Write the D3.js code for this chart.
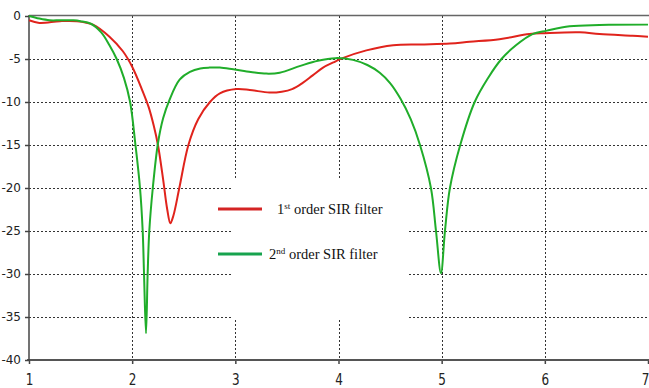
<!DOCTYPE html>
<html>
<head>
<meta charset="utf-8">
<script src="https://cdn.jsdelivr.net/npm/d3@7"></script>
<style>
  body { margin: 0; background: #fff; }
  svg { display: block; }
</style>
</head>
<body>
<div id="chart"></div>
<script>
// data
var xTicks = [1, 2, 3, 4, 5, 6, 7];
var yTicks = [0, -5, -10, -15, -20, -25, -30, -35, -40];

var firstFreq = [1.0, 1.1, 1.3, 1.46, 1.62, 1.78, 1.91, 2.0, 2.1, 2.16, 2.21, 2.25, 2.3, 2.34, 2.37,
  2.4, 2.457, 2.545, 2.64, 2.754, 2.85, 3.01, 3.14, 3.33, 3.45, 3.55, 3.65, 3.75, 3.85, 3.95, 4.04,
  4.27, 4.53, 4.79, 5.08, 5.27, 5.56, 5.85, 6.0, 6.34, 6.53, 6.85, 7.0];
var firstLoss = [-0.5, -0.8, -0.6, -0.6, -1.0, -2.4, -4.1, -5.9, -8.7, -10.6, -12.8, -15, -19, -22.5, -24.1,
  -23.2, -20, -15, -12, -10, -9.0, -8.5, -8.6, -8.9, -8.8, -8.5, -7.8, -6.9, -6.0, -5.4, -4.9,
  -4.0, -3.4, -3.3, -3.2, -3.0, -2.7, -2.1, -2.0, -1.9, -2.1, -2.3, -2.4];

var secondFreq = [1.0, 1.1, 1.2, 1.3, 1.43, 1.5, 1.6, 1.7, 1.78, 1.85, 1.92, 1.98, 2.03, 2.076, 2.102,
  2.115, 2.134, 2.15, 2.166, 2.2, 2.25, 2.3, 2.36, 2.46, 2.56, 2.66, 2.75, 2.85, 2.98, 3.15, 3.3,
  3.43, 3.63, 3.8, 3.97, 4.14, 4.28, 4.4, 4.5, 4.6, 4.7, 4.79, 4.896, 4.945, 4.993, 5.032, 5.08, 5.18,
  5.32, 5.45, 5.58, 5.72, 5.88, 6.02, 6.24, 6.53, 7.0];
var secondLoss = [0, -0.3, -0.5, -0.5, -0.5, -0.6, -0.9, -1.9, -3.4, -5.0, -7.2, -10, -14.8, -20, -25,
  -30, -36.9, -30, -25, -20, -14.8, -11.9, -9.8, -7.4, -6.5, -6.1, -6.0, -6.0, -6.2, -6.5, -6.7,
  -6.6, -5.8, -5.2, -4.9, -5.1, -5.7, -6.6, -7.8, -9.6, -12.0, -15, -20, -25, -29.9, -25, -20, -15,
  -10, -7.2, -5, -3.4, -2.1, -1.7, -1.2, -1.05, -1.0];

var legendLabels = [["1", "st", " order SIR filter"], ["2", "nd", " order SIR filter"]];

let svgWidth = 649;
let svgHeight = 388;

let svg = d3.select("#chart")
  .append("svg")
  .attr("width", svgWidth)
  .attr("height", svgHeight);

var xScale = d3.scaleLinear().domain([1, 7]).range([29, 648]);
var yScale = d3.scaleLinear().domain([-40, 0]).range([360, 16]);

// dotted grid
var grid = svg.append("g")
  .attr("stroke", "#333")
  .attr("stroke-width", 1)
  .attr("stroke-dasharray", "2,2");

grid.selectAll(".vgrid")
  .data(xTicks.filter(d => d > 1 && d < 7))
  .enter()
  .append("line")
  .attr("x1", d => Math.round(xScale(d)) + 0.5)
  .attr("x2", d => Math.round(xScale(d)) + 0.5)
  .attr("y1", yScale(0))
  .attr("y2", yScale(-40));

grid.selectAll(".hgrid")
  .data(yTicks.filter(d => d < 0 && d > -40))
  .enter()
  .append("line")
  .attr("x1", xScale(1))
  .attr("x2", svgWidth)
  .attr("y1", d => Math.round(yScale(d)) + 0.5)
  .attr("y2", d => Math.round(yScale(d)) + 0.5);

// white patch behind the legend hides the grid there
svg.append("rect")
  .attr("x", 232)
  .attr("y", 180)
  .attr("width", 175)
  .attr("height", 139)
  .attr("fill", "#fff");

// frame
svg.append("line")
  .attr("x1", xScale(1)).attr("x2", svgWidth)
  .attr("y1", 15.5).attr("y2", 15.5)
  .attr("stroke", "#666").attr("stroke-width", 1.5);

// axes
var bottomAxis = d3.axisBottom(xScale).tickValues(xTicks).tickSize(4).tickFormat(d3.format("d"));
var leftAxis = d3.axisLeft(yScale).tickValues(yTicks).tickSize(4).tickFormat(d => d);

var xAxis = svg.append("g")
  .attr("transform", "translate(0, 360)")
  .call(bottomAxis);
xAxis.select(".domain").remove();
xAxis.append("line")
  .attr("x1", xScale(1) - 2).attr("x2", svgWidth)
  .attr("stroke", "#555").attr("stroke-width", 2);
xAxis.selectAll(".tick line").attr("stroke", "#444").attr("stroke-width", 1.5);
xAxis.selectAll(".tick text")
  .attr("y", 0)
  .attr("dy", 0)
  .attr("transform", "translate(0, 25) scale(1, 1.3)")
  .attr("text-anchor", d => d === 7 ? "end" : "middle")
  .attr("x", d => d === 7 ? 1 : 0)
  .attr("fill", "#222")
  .style("font-family", "'DejaVu Sans', sans-serif")
  .style("font-size", "12px");

var yAxis = svg.append("g")
  .attr("transform", "translate(" + xScale(1) + ", 0)")
  .call(leftAxis);
yAxis.select(".domain").remove();
yAxis.append("line")
  .attr("y1", 15).attr("y2", 361)
  .attr("stroke", "#444").attr("stroke-width", 1.5);
yAxis.selectAll(".tick line").attr("stroke", "#444").attr("stroke-width", 1.5);
yAxis.selectAll(".tick text")
  .attr("x", -8)
  .attr("fill", "#222")
  .style("font-family", "'DejaVu Sans', sans-serif")
  .style("font-size", "12px");

// curves
var line = d3.line()
  .x(d => xScale(d[0]))
  .y(d => yScale(d[1]))
  .curve(d3.curveCatmullRom.alpha(0.5));

var firstData = firstFreq.map((f, i) => [f, firstLoss[i]]);
var secondData = secondFreq.map((f, i) => [f, secondLoss[i]]);

svg.append("path")
  .datum(firstData)
  .attr("d", line)
  .attr("fill", "none")
  .attr("stroke", "#e0231c")
  .attr("stroke-width", 2);

svg.append("path")
  .datum(secondData)
  .attr("d", line)
  .attr("fill", "none")
  .attr("stroke", "#20ad2a")
  .attr("stroke-width", 2);

// legend
var legendColors = ["#d42424", "#17a34e"];
var legend = svg.selectAll(".legend")
  .data(legendLabels)
  .enter()
  .append("g")
  .attr("transform", (d, i) => "translate(218, " + (209 + i * 45) + ")");

legend.append("line")
  .attr("x1", 0).attr("x2", 44)
  .attr("stroke", (d, i) => legendColors[i])
  .attr("stroke-width", 3);

var legendText = legend.append("text")
  .attr("x", (d, i) => i === 0 ? 59 : 51)
  .attr("y", 5)
  .attr("fill", "#111")
  .style("font-family", "'Liberation Serif', 'Times New Roman', serif")
  .style("font-size", "14.5px");

legendText.append("tspan").text(d => d[0]);
legendText.append("tspan")
  .attr("dy", -5)
  .style("font-size", "9px")
  .text(d => d[1]);
legendText.append("tspan")
  .attr("dy", 5)
  .text(d => d[2]);
</script>
</body>
</html>
